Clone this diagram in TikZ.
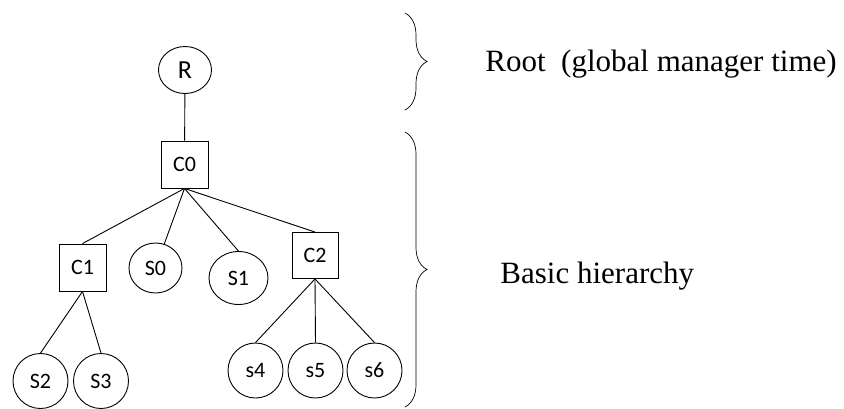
\documentclass[tikz,border=0pt]{standalone}
\usepackage{fontspec}
\setmainfont{Liberation Serif}
\newfontfamily\labelfont{Carlito}
\usetikzlibrary{shapes.geometric,decorations.pathreplacing}

\begin{document}
\begin{tikzpicture}[x=1pt,y=-1pt,line width=0.9pt,
    hub/.style={draw,minimum size=47pt,inner sep=0pt,font=\labelfont\fontsize{22}{26}\selectfont},
    leaf/.style={draw,ellipse,minimum width=55pt,minimum height=55pt,inner sep=0pt,font=\labelfont\fontsize{22}{26}\selectfont},
    note/.style={anchor=base west,inner sep=0pt,font=\fontsize{31}{36}\selectfont}]
    \useasboundingbox (0,0) rectangle (844,408);
    % root and top manager
    \node[leaf,minimum width=53pt,minimum height=47pt,font=\labelfont\fontsize{26}{30}\selectfont] (R) at (185,70) {R};
    \node[hub] (C0) at (184.5,164.5) {C0};
    % second level
    \node[hub] (C1) at (82.5,267.5) {C1};
    \node[leaf,minimum width=53pt,minimum height=50pt] (S0) at (155.5,268) {S0};
    \node[leaf,minimum width=59pt,minimum height=53pt] (S1) at (238.5,278) {S1};
    \node[hub,minimum size=46pt] (C2) at (315,255.5) {C2};
    % leaves
    \node[leaf] (S2) at (40.5,381) {S2};
    \node[leaf] (S3) at (101,381) {S3};
    \foreach \n/\x in {s4/255.5, s5/315.5, s6/374.5}
      \node[leaf] (\n) at (\x,370.5) {\n};
    % links
    \draw (R) -- (C0);
    \draw (C0.south) -- (C1.north);
    \draw (C0.south) -- (S0);
    \draw (C0.south) -- (S1.north);
    \draw (C0.south) -- (C2.north);
    \foreach \n in {S2,S3}
      \draw (C1.south) -- (\n.north);
    \foreach \n in {s4,s5,s6}
      \draw (C2.south) -- (\n.north);
    % braces
    \coordinate (rootTop) at (405,13);
    \coordinate (rootBot) at (405,110);
    \coordinate (baseTop) at (405,132);
    \coordinate (baseBot) at (405,407);
    \draw[decorate,decoration={brace,amplitude=22pt},line width=0.7pt] (rootTop) -- (rootBot);
    \draw[decorate,decoration={brace,amplitude=22pt},line width=0.7pt] (baseTop) -- (baseBot);
    % notes
    \node[note] (rootnote) at (485,71) {Root\ \ (global manager time)};
    \node[note] (basenote) at (500,283) {Basic hierarchy};
\end{tikzpicture}
\end{document}
